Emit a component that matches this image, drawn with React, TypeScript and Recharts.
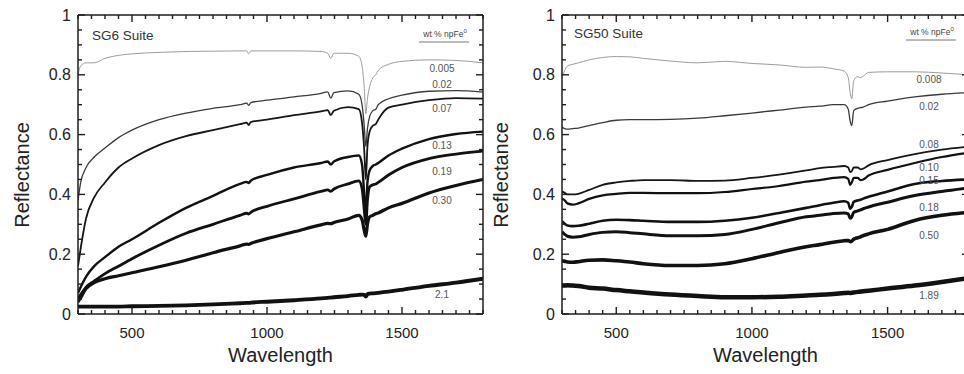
import React from "react";
import { LineChart, Line, XAxis, YAxis } from "recharts";

// wavelengths (nm) sampled for each suite
const wlSG6 = [300, 310, 330, 360, 400, 450, 500, 600, 700, 800, 900, 925, 932, 940, 1000, 1100, 1200, 1225, 1236, 1248, 1300, 1340, 1352, 1360, 1366, 1372, 1380, 1392, 1403, 1412, 1450, 1500, 1600, 1700, 1800];

const sg6_0005 = [0.80, 0.83, 0.84, 0.84, 0.855, 0.865, 0.87, 0.875, 0.878, 0.879, 0.88, 0.88, 0.87, 0.88, 0.88, 0.88, 0.878, 0.872, 0.855, 0.872, 0.872, 0.862, 0.83, 0.76, 0.67, 0.72, 0.76, 0.79, 0.80, 0.815, 0.835, 0.845, 0.85, 0.848, 0.84];
const sg6_002 = [0.38, 0.44, 0.49, 0.525, 0.555, 0.59, 0.615, 0.65, 0.672, 0.688, 0.70, 0.705, 0.698, 0.707, 0.715, 0.726, 0.738, 0.743, 0.722, 0.74, 0.746, 0.735, 0.70, 0.63, 0.56, 0.62, 0.66, 0.68, 0.685, 0.70, 0.72, 0.732, 0.745, 0.747, 0.742];
const sg6_007 = [0.16, 0.22, 0.32, 0.39, 0.44, 0.49, 0.52, 0.565, 0.595, 0.615, 0.635, 0.64, 0.632, 0.642, 0.65, 0.665, 0.678, 0.682, 0.665, 0.68, 0.692, 0.685, 0.64, 0.55, 0.45, 0.56, 0.61, 0.63, 0.635, 0.65, 0.69, 0.70, 0.715, 0.722, 0.72];
const sg6_013 = [0.07, 0.09, 0.125, 0.16, 0.19, 0.225, 0.25, 0.305, 0.355, 0.395, 0.435, 0.442, 0.438, 0.446, 0.465, 0.49, 0.505, 0.51, 0.50, 0.51, 0.525, 0.53, 0.50, 0.40, 0.32, 0.44, 0.48, 0.495, 0.50, 0.505, 0.53, 0.553, 0.585, 0.602, 0.61];
const sg6_019 = [0.05, 0.065, 0.09, 0.11, 0.135, 0.16, 0.185, 0.23, 0.27, 0.30, 0.33, 0.337, 0.334, 0.34, 0.36, 0.385, 0.41, 0.415, 0.41, 0.418, 0.435, 0.445, 0.42, 0.35, 0.30, 0.38, 0.425, 0.432, 0.435, 0.44, 0.465, 0.49, 0.52, 0.535, 0.545];
const sg6_030 = [0.04, 0.055, 0.085, 0.105, 0.118, 0.128, 0.138, 0.158, 0.18, 0.205, 0.228, 0.234, 0.233, 0.236, 0.252, 0.275, 0.298, 0.303, 0.302, 0.306, 0.318, 0.33, 0.315, 0.28, 0.26, 0.30, 0.325, 0.33, 0.335, 0.338, 0.355, 0.37, 0.405, 0.43, 0.45];
const sg6_21 = [0.025, 0.025, 0.025, 0.025, 0.025, 0.025, 0.026, 0.027, 0.029, 0.032, 0.036, 0.037, 0.037, 0.038, 0.041, 0.046, 0.052, 0.054, 0.055, 0.056, 0.06, 0.064, 0.065, 0.064, 0.058, 0.066, 0.068, 0.069, 0.07, 0.071, 0.075, 0.081, 0.094, 0.105, 0.118];

const wlSG50 = [300, 310, 320, 340, 360, 400, 450, 500, 550, 600, 700, 800, 900, 1000, 1100, 1200, 1250, 1300, 1340, 1355, 1362, 1368, 1375, 1390, 1400, 1410, 1430, 1500, 1600, 1700, 1800];

const sg50_0008 = [0.79, 0.815, 0.83, 0.835, 0.84, 0.85, 0.858, 0.861, 0.86, 0.855, 0.846, 0.84, 0.845, 0.838, 0.833, 0.825, 0.826, 0.82, 0.812, 0.79, 0.74, 0.72, 0.78, 0.794, 0.79, 0.795, 0.808, 0.81, 0.81, 0.806, 0.80];
const sg50_002 = [0.625, 0.62, 0.618, 0.62, 0.622, 0.63, 0.64, 0.648, 0.65, 0.65, 0.651, 0.655, 0.663, 0.672, 0.682, 0.692, 0.695, 0.70, 0.70, 0.685, 0.645, 0.63, 0.68, 0.688, 0.69, 0.692, 0.70, 0.712, 0.726, 0.735, 0.74];
const sg50_008 = [0.41, 0.405, 0.40, 0.40, 0.402, 0.415, 0.432, 0.44, 0.445, 0.448, 0.448, 0.445, 0.446, 0.455, 0.466, 0.48, 0.488, 0.492, 0.495, 0.49, 0.475, 0.478, 0.49, 0.49, 0.484, 0.486, 0.497, 0.515, 0.535, 0.55, 0.56];
const sg50_010 = [0.385, 0.38, 0.37, 0.366, 0.37, 0.385, 0.397, 0.402, 0.405, 0.405, 0.404, 0.404, 0.408, 0.418, 0.428, 0.443, 0.448, 0.455, 0.458, 0.452, 0.432, 0.44, 0.455, 0.455, 0.448, 0.45, 0.463, 0.482, 0.505, 0.525, 0.54];
const sg50_015 = [0.31, 0.302, 0.296, 0.294, 0.295, 0.302, 0.312, 0.315, 0.314, 0.312, 0.308, 0.308, 0.312, 0.322, 0.338, 0.355, 0.364, 0.372, 0.377, 0.372, 0.352, 0.358, 0.375, 0.38, 0.382, 0.386, 0.392, 0.41, 0.435, 0.445, 0.45];
const sg50_018 = [0.275, 0.266, 0.26, 0.257, 0.258, 0.266, 0.273, 0.275, 0.272, 0.268, 0.262, 0.262, 0.266, 0.283, 0.305, 0.325, 0.33, 0.336, 0.338, 0.335, 0.32, 0.325, 0.34, 0.345, 0.348, 0.352, 0.358, 0.374, 0.396, 0.41, 0.422];
const sg50_050 = [0.178, 0.176, 0.174, 0.173, 0.175, 0.18, 0.181, 0.178, 0.174, 0.168, 0.162, 0.162, 0.168, 0.185, 0.206, 0.225, 0.232, 0.24, 0.245, 0.246, 0.242, 0.244, 0.25, 0.255, 0.258, 0.262, 0.268, 0.283, 0.313, 0.33, 0.34];
const sg50_189 = [0.095, 0.095, 0.096, 0.095, 0.094, 0.088, 0.085, 0.08, 0.076, 0.072, 0.065, 0.06, 0.056, 0.056, 0.058, 0.062, 0.064, 0.067, 0.07, 0.071, 0.07, 0.071, 0.072, 0.074, 0.075, 0.076, 0.078, 0.085, 0.095, 0.107, 0.12];

const xTicks = [300, 350, 400, 450, 500, 550, 600, 650, 700, 750, 800, 850, 900, 950, 1000, 1050, 1100, 1150, 1200, 1250, 1300, 1350, 1400, 1450, 1500, 1550, 1600, 1650, 1700, 1750, 1800];
const yTicks = [0, 0.05, 0.1, 0.15, 0.2, 0.25, 0.3, 0.35, 0.4, 0.45, 0.5, 0.55, 0.6, 0.65, 0.7, 0.75, 0.8, 0.85, 0.9, 0.95, 1];

const FONT = "'Liberation Sans', Arial, Helvetica, sans-serif";
const INK = "#1e1e1e";
const MINOR = 4; // inward tick length drawn by recharts (negative tickSize)
const EXTRA = 3; // extra length for the major ticks

type Series = { label: string; values: number[]; width: number; color: string; labelY: number };

const sg6Series: Series[] = [
  { label: "0.005", values: sg6_0005, width: 1, color: "#9c9c9c", labelY: 68 },
  { label: "0.02", values: sg6_002, width: 1.3, color: "#3a3a3a", labelY: 84 },
  { label: "0.07", values: sg6_007, width: 1.8, color: "#161616", labelY: 108 },
  { label: "0.13", values: sg6_013, width: 2.4, color: "#111", labelY: 145 },
  { label: "0.19", values: sg6_019, width: 2.8, color: "#111", labelY: 171 },
  { label: "0.30", values: sg6_030, width: 3.2, color: "#111", labelY: 200 },
  { label: "2.1", values: sg6_21, width: 3.8, color: "#111", labelY: 294 },
];

const sg50Series: Series[] = [
  { label: "0.008", values: sg50_0008, width: 1, color: "#9c9c9c", labelY: 79 },
  { label: "0.02", values: sg50_002, width: 1.3, color: "#3a3a3a", labelY: 106 },
  { label: "0.08", values: sg50_008, width: 1.8, color: "#161616", labelY: 144 },
  { label: "0.10", values: sg50_010, width: 2.2, color: "#111", labelY: 167 },
  { label: "0.15", values: sg50_015, width: 2.6, color: "#111", labelY: 180 },
  { label: "0.18", values: sg50_018, width: 3, color: "#111", labelY: 207 },
  { label: "0.50", values: sg50_050, width: 3.6, color: "#111", labelY: 235 },
  { label: "1.89", values: sg50_189, width: 4.5, color: "#111", labelY: 295 },
];

// x,y handed in here sit at the inner end of recharts' own (inward) tick line
function BottomTick({ x, y, payload }: any) {
  const major = payload.value % 500 === 0;
  if (!major) return <g />;
  return (
    <g>
      <line x1={x} x2={x} y1={y} y2={y - EXTRA} stroke={INK} strokeWidth={1.4} />
      <text x={x} y={y + MINOR + 24} textAnchor="middle" fontSize={15} fill="#222" fontFamily={FONT}>
        {payload.value}
      </text>
    </g>
  );
}

function TopTick({ x, y, payload }: any) {
  if (payload.value % 500 !== 0) return <g />;
  return <line x1={x} x2={x} y1={y} y2={y + EXTRA} stroke={INK} strokeWidth={1.4} />;
}

function isMajorY(v: number) {
  return Math.round(v * 100) % 20 === 0;
}

function LeftTick({ x, y, payload }: any) {
  const v = payload.value;
  if (!isMajorY(v)) return <g />;
  const txt = v === 0 ? "0" : v === 1 ? "1" : v.toFixed(1);
  return (
    <g>
      <line x1={x} x2={x + EXTRA} y1={y} y2={y} stroke={INK} strokeWidth={1.4} />
      <text x={x - MINOR - 7} y={y + 5.5} textAnchor="end" fontSize={16} fill="#222" fontFamily={FONT}>
        {txt}
      </text>
    </g>
  );
}

function RightTick({ x, y, payload }: any) {
  if (!isMajorY(payload.value)) return <g />;
  return <line x1={x} x2={x - EXTRA} y1={y} y2={y} stroke={INK} strokeWidth={1.4} />;
}

function Panel({
  left,
  width,
  wl,
  series,
  title,
  titleX,
  yTitleX,
  labelX,
  legendY,
}: {
  left: number;
  width: number;
  wl: number[];
  series: Series[];
  title: string;
  titleX: number;
  yTitleX: number;
  labelX: number;
  legendY: number;
}) {
  const rows = wl.map((w, i) => {
    const r: any = { wl: w };
    series.forEach((s, k) => (r["s" + k] = s.values[i]));
    return r;
  });
  const plotCenter = (78 + width - 2) / 2;
  const axisLine = { stroke: INK, strokeWidth: 1.5 };
  const tickLine = { stroke: INK, strokeWidth: 1.4 };

  return (
    <div style={{ position: "absolute", left, top: 0, width, height: 374 }}>
      <LineChart width={width} height={374} data={rows} margin={{ top: 0, right: 0, bottom: 0, left: 0 }}>
        <XAxis dataKey="wl" type="number" domain={[300, 1800]} ticks={xTicks} interval={0} height={60} tickSize={-MINOR} tickMargin={0} tickLine={tickLine} tick={<BottomTick />} axisLine={axisLine} allowDataOverflow />
        <XAxis xAxisId="top" orientation="top" dataKey="wl" type="number" domain={[300, 1800]} ticks={xTicks} interval={0} height={15} tickSize={-MINOR} tickMargin={0} tickLine={tickLine} tick={<TopTick />} axisLine={axisLine} allowDataOverflow />
        <YAxis type="number" domain={[0, 1]} ticks={yTicks} interval={0} width={78} tickSize={-MINOR} tickMargin={0} tickLine={tickLine} tick={<LeftTick />} axisLine={axisLine} allowDataOverflow />
        <YAxis yAxisId="right" orientation="right" type="number" domain={[0, 1]} ticks={yTicks} interval={0} width={2} tickSize={-MINOR} tickMargin={0} tickLine={tickLine} tick={<RightTick />} axisLine={axisLine} allowDataOverflow />
        {series.map((s, k) => (
          <Line
            key={s.label}
            dataKey={"s" + k}
            type="monotone"
            stroke={s.color}
            strokeWidth={s.width}
            dot={false}
            activeDot={false}
            isAnimationActive={false}
          />
        ))}
      </LineChart>
      <svg
        width={width}
        height={374}
        style={{ position: "absolute", left: 0, top: 0, pointerEvents: "none" }}
        fontFamily={FONT}
      >
        <text x={titleX} y={legendY + 4.5} fontSize={13.5} fill="#333">
          {title}
        </text>
        <text x={labelX + 3} y={legendY + 2} fontSize={8.5} fill="#444" textAnchor="middle">
          wt % npFe
          <tspan fontSize={6} dy={-4}>
            0
          </tspan>
        </text>
        <line x1={labelX - 23} x2={labelX + 27} y1={legendY + 7} y2={legendY + 7} stroke="#777" strokeWidth={1} />
        {series.map((s) => (
          <text key={s.label} x={labelX} y={s.labelY + 3.5} fontSize={10} fill="#555" textAnchor="middle">
            {s.label}
          </text>
        ))}
        <text x={plotCenter} y={362} fontSize={20} fill="#222" textAnchor="middle">
          Wavelength
        </text>
        <text x={yTitleX} y={175} fontSize={20} fill="#222" textAnchor="middle" transform={`rotate(-90 ${yTitleX} 175)`}>
          Reflectance
        </text>
      </svg>
    </div>
  );
}

export default function App() {
  return (
    <div style={{ position: "absolute", left: 0, top: 0, width: 964, height: 374, overflow: "hidden", background: "#fff", fontFamily: FONT }}>
      <Panel left={0} width={485} wl={wlSG6} series={sg6Series} title="SG6 Suite" titleX={92} yTitleX={29} labelX={442} legendY={35} />
      <Panel left={484} width={487} wl={wlSG50} series={sg50Series} title="SG50 Suite" titleX={90} yTitleX={24} labelX={445} legendY={33} />
    </div>
  );
}
